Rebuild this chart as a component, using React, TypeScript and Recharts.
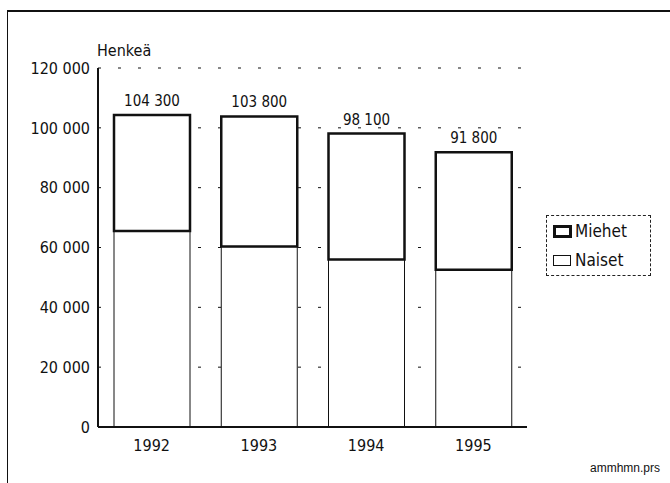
import React from "react";
import {
  BarChart,
  Bar,
  XAxis,
  YAxis,
  CartesianGrid,
  LabelList,
} from "recharts";

const years = ["1992", "1993", "1994", "1995"];
const naiset = [65500, 60300, 56000, 52600];
const miehet = [38800, 43500, 42100, 39200];
const totals = [104300, 103800, 98100, 91800];
const yTicks = [0, 20000, 40000, 60000, 80000, 100000, 120000];

const DATA = years.map((year, i) => ({
  year,
  naiset: naiset[i],
  miehet: miehet[i],
  total: totals[i],
}));

const FONT = "'Liberation Sans Narrow', 'DejaVu Sans Condensed', 'Liberation Sans', sans-serif";

// 104300 -> "104 300"
const fmt = (v: number) => String(v).replace(/\B(?=(\d{3})+(?!\d))/g, " ");

export default function App() {
  return (
    <div
      style={{
        position: "absolute",
        left: 0,
        top: 0,
        width: 670,
        height: 483,
        background: "#fff",
        fontFamily: FONT,
        overflow: "hidden",
      }}
    >
      {/* scanned frame: top and left edges only */}
      <div
        style={{
          position: "absolute",
          left: 7,
          top: 10,
          width: 670,
          height: 480,
          borderTop: "2px solid #111",
          borderLeft: "1px solid #111",
        }}
      />
      <span
        style={{
          position: "absolute",
          left: 97,
          top: 41,
          fontSize: 16,
          color: "#111",
        }}
      >
        Henkeä
      </span>

      <BarChart
        width={670}
        height={483}
        data={DATA}
        margin={{ top: 68, right: 143, bottom: 26, left: 8 }}
        style={{ position: "absolute", left: 0, top: 0 }}
      >
        <CartesianGrid
          vertical={false}
          stroke="#111"
          strokeWidth={1}
          strokeDasharray="3 17"
        />
        <XAxis
          dataKey="year"
          axisLine={{ stroke: "#111", strokeWidth: 2 }}
          tickLine={false}
          tick={{ fill: "#111", fontSize: 16, fontFamily: FONT }}
          height={30}
          dy={5}
        />
        <YAxis
          domain={[0, 120000]}
          ticks={yTicks}
          tickFormatter={fmt}
          axisLine={{ stroke: "#111", strokeWidth: 2 }}
          tickLine={false}
          tick={{ fill: "#111", fontSize: 16, fontFamily: FONT }}
          width={90}
          interval={0}
        />
        <Bar
          dataKey="naiset"
          stackId="a"
          fill="#fff"
          stroke="#111"
          strokeWidth={1}
          barSize={76}
          isAnimationActive={false}
        />
        <Bar
          dataKey="miehet"
          stackId="a"
          fill="#fff"
          stroke="#111"
          strokeWidth={2.5}
          barSize={76}
          isAnimationActive={false}
        >
          <LabelList
            dataKey="total"
            position="top"
            offset={9}
            formatter={(v: any) => fmt(Number(v))}
            style={{ fill: "#111", fontSize: 15, fontFamily: FONT }}
          />
        </Bar>
      </BarChart>

      {/* legend */}
      <div
        style={{
          position: "absolute",
          left: 546,
          top: 215,
          width: 103,
          height: 59,
          border: "1px dashed #222",
          fontSize: 17,
          color: "#111",
        }}
      >
        <div style={{ position: "absolute", left: 6, top: 5, display: "flex", alignItems: "center" }}>
          <svg width={19} height={13} style={{ marginRight: 3 }}>
            <rect x={1.5} y={1.5} width={16} height={10} fill="#fff" stroke="#111" strokeWidth={3} />
          </svg>
          Miehet
        </div>
        <div style={{ position: "absolute", left: 6, top: 34, display: "flex", alignItems: "center" }}>
          <svg width={19} height={13} style={{ marginRight: 3 }}>
            <rect x={0.5} y={1.5} width={17} height={10} fill="#fff" stroke="#111" strokeWidth={1} />
          </svg>
          Naiset
        </div>
      </div>

      <span
        style={{
          position: "absolute",
          left: 590,
          top: 461,
          fontSize: 12,
          color: "#111",
          fontFamily: "'Liberation Sans', sans-serif",
        }}
      >
        ammhmn.prs
      </span>
    </div>
  );
}
